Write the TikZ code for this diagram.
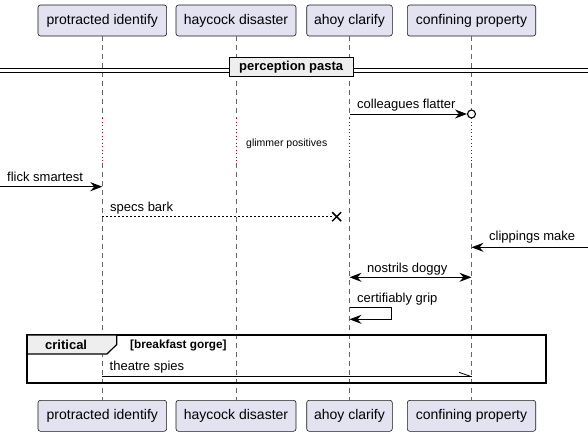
\documentclass[tikz,border=0pt]{standalone}
\usepackage{fontspec}
\setmainfont{Liberation Sans}
\usetikzlibrary{arrows.meta}
\definecolor{partfill}{RGB}{226,226,240}
\definecolor{partdraw}{RGB}{24,24,24}
\definecolor{grpfill}{RGB}{238,238,238}
\definecolor{delaycol}{RGB}{150,0,60}
\begin{document}
\begin{tikzpicture}[x=1pt,y=-1pt,
  part/.style={draw=partdraw, fill=partfill, rounded corners=2.5pt, minimum height=31pt, inner sep=0pt, line width=0.6pt, font=\fontsize{14}{16}\selectfont},
  lifeline/.style={draw=black!60, line width=0.6pt, dash pattern=on 5pt off 4pt},
  delayline/.style={draw=delaycol, line width=0.8pt, dash pattern=on 1pt off 2.5pt},
  msg/.style={draw=black, line width=0.9pt},
  tip/.style={-{Stealth[length=12pt,width=9pt,inset=4pt]}},
  msgtxt/.style={anchor=base west, inner sep=0pt, font=\fontsize{13}{15}\selectfont},
  boldtxt/.style={inner sep=0pt, font=\bfseries\fontsize{13}{15}\selectfont},
]
\useasboundingbox (0,0) rectangle (588,437);
% participants
\node[part, minimum width=128.7pt] (p1t) at (102.3,20.5) {protracted identify};
\node[part, minimum width=120pt] (p2t) at (236,20.5) {haycock disaster};
\node[part, minimum width=85.6pt] (p3t) at (349.5,20.5) {ahoy clarify};
\node[part, minimum width=128.4pt] (p4t) at (471.5,20.5) {confining property};
\node[part, minimum width=128.7pt] (p1b) at (102.3,415.8) {protracted identify};
\node[part, minimum width=120pt] (p2b) at (236,415.8) {haycock disaster};
\node[part, minimum width=85.6pt] (p3b) at (349.5,415.8) {ahoy clarify};
\node[part, minimum width=128.4pt] (p4b) at (471.5,415.8) {confining property};
% delay coordinates
\foreach \n/\x in {1/102.3,2/236,3/349.5,4/471.5}{
  \coordinate (d\n a) at (\x,118);
  \coordinate (d\n b) at (\x,163);
}
\foreach \n in {1,2,3,4}{
  \draw[lifeline] (p\n t.south) -- (d\n a);
  \draw[delayline] (d\n a) -- (d\n b);
  \draw[lifeline] (d\n b) -- (p\n b.north);
}
% divider
\coordinate (dl) at (0,70);
\coordinate (dr) at (588,70);
\draw[line width=0.9pt] ([yshift=-2pt]dl) -- ([yshift=-2pt]dr);
\draw[line width=0.9pt] ([yshift=2pt]dl) -- ([yshift=2pt]dr);
\node[draw=black, line width=1.4pt, fill=grpfill, minimum width=124pt, minimum height=19.5pt, inner sep=0pt, font=\bfseries\fontsize{13}{15}\selectfont] (div) at (291.2,67) {perception pasta};
% colleagues flatter
\coordinate (m1a) at (349.5,114);
\node[draw=black, line width=1.1pt, fill=white, circle, minimum size=8pt, inner sep=0pt] (circ) at (471.5,114) {};
\draw[msg, tip] (m1a) -- (circ.west);
\node[msgtxt] (t1) at (357,108.3) {colleagues flatter};
% glimmer positives
\node[anchor=west, inner sep=0pt, font=\fontsize{10.5}{12}\selectfont] (gp) at (246,144) {glimmer positives};
% flick smartest
\coordinate (m2a) at (0,186.7);
\coordinate (m2b) at (102.3,186.7);
\draw[msg, tip] (m2a) -- (m2b);
\node[msgtxt] (t2) at (7,181.7) {flick smartest};
% specs bark
\coordinate (m3a) at (102.3,216.7);
\coordinate (m3b) at (336.7,216.7);
\draw[msg, line width=0.7pt, dash pattern=on 2pt off 2pt] (m3a) -- ([xshift=-4pt]m3b);
\draw[line width=1.5pt] ([shift={(-4.5pt,-4.5pt)}]m3b) -- ([shift={(4.5pt,4.5pt)}]m3b);
\draw[line width=1.5pt] ([shift={(-4.5pt,4.5pt)}]m3b) -- ([shift={(4.5pt,-4.5pt)}]m3b);
\node[msgtxt] (t3) at (110,211.7) {specs bark};
% clippings make
\coordinate (m4a) at (588,247.3);
\coordinate (m4b) at (471.5,247.3);
\draw[msg, tip] (m4a) -- (m4b);
\node[msgtxt] (t4) at (489,240.8) {clippings make};
% nostrils doggy
\coordinate (m5a) at (349.5,277.3);
\coordinate (m5b) at (471.5,277.3);
\draw[msg, {Stealth[length=12pt,width=9pt,inset=4pt]}-{Stealth[length=12pt,width=9pt,inset=4pt]}] (m5a) -- (m5b);
\node[msgtxt] (t5) at (367,272.5) {nostrils doggy};
% certifiably grip
\coordinate (m6a) at (349.5,307.3);
\coordinate (m6c) at (391,307.3);
\coordinate (m6d) at (391,319.3);
\coordinate (m6b) at (349.5,319.3);
\draw[msg, tip] (m6a) -- (m6c) -- (m6d) -- (m6b);
\node[msgtxt] (t6) at (357,302.5) {certifiably grip};
% critical frame
\draw[line width=1.8pt] (27.3,335) rectangle (546,383.3);
\draw[line width=1.2pt, fill=grpfill] (27.3,335) -- (116.7,335) -- (116.7,344.5) -- (107,354) -- (27.3,354) -- cycle;
\node[boldtxt, anchor=base west] (crit) at (45,349) {critical};
\node[inner sep=0pt, anchor=base west, font=\bfseries\fontsize{11.8}{13}\selectfont] (guard) at (130,348.3) {[breakfast gorge]};
% theatre spies
\coordinate (m7a) at (102.3,376.7);
\coordinate (m7b) at (471.5,376.7);
\draw[msg] (m7a) -- (m7b);
\draw[msg, line width=0.8pt] (m7b) -- ++(-12.5,-4.4);
\node[msgtxt] (t7) at (109.5,370.7) {theatre spies};
\end{tikzpicture}
\end{document}
